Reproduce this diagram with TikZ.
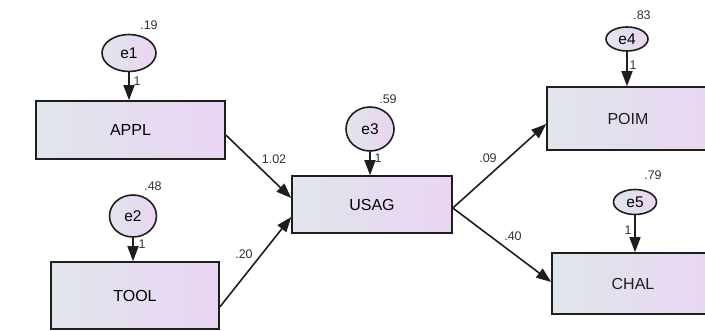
\documentclass[tikz,border=0pt]{standalone}
\usepackage{fontspec}
\setmainfont{Liberation Sans}
\usetikzlibrary{arrows.meta,calc,shapes.geometric}

\definecolor{fillL}{HTML}{E0E6EC}
\definecolor{fillR}{HTML}{EAD4F2}
\definecolor{edge}{HTML}{1E1E1E}
\definecolor{numtext}{HTML}{333333}

\tikzset{
  observed/.style={draw=edge, line width=1.6pt, left color=fillL, right color=fillR,
    minimum height=#1, inner sep=0pt, font=\fontsize{16}{18}\selectfont},
  errorvar/.style={ellipse, draw=edge, line width=1.6pt, left color=fillL, right color=fillR,
    inner sep=0pt, font=\fontsize{15.5}{17}\selectfont},
  connector/.style={draw=edge, line width=1.6pt, -{Triangle[length=15pt,width=11pt]}},
  estimate/.style={font=\fontsize{12.5}{14}\selectfont, text=numtext, inner sep=0pt},
  boxlabel/.style={font=\fontsize{16}{18}\selectfont, text=edge},
}

\begin{document}
\begin{tikzpicture}[x=1pt,y=-1pt]
\useasboundingbox (0,0) rectangle (705,331);
\clip (0,0) rectangle (705,331);
\fill[white] (0,0) rectangle (705,331);

% observed variables
\node[observed=58pt, minimum width=189pt] (appl) at (130.5,130) {APPL};
\node[observed=67pt, minimum width=168pt] (tool) at (135,295.5) {TOOL};
\node[observed=57pt, minimum width=160pt] (usag) at (372,204.5) {USAG};
\node[observed=63pt, minimum width=180pt] (poim) at (637,118.5) {};
\node[observed=61pt, minimum width=180pt] (chal) at (642,283.5) {};
\node[boxlabel] (poimlabel) at (628,118.5) {POIM};
\node[boxlabel] (challabel) at (633,283.5) {CHAL};

% error terms
\node[errorvar, minimum width=54pt, minimum height=37pt] (e1) at (129,53) {e1};
\node[errorvar, minimum width=47pt, minimum height=42pt] (e2) at (133,216) {e2};
\node[errorvar, minimum width=48pt, minimum height=44pt] (e3) at (370,129) {e3};
\node[errorvar, minimum width=42pt, minimum height=24pt] (e4) at (627,39) {e4};
\node[errorvar, minimum width=43pt, minimum height=25pt] (e5) at (635,202) {e5};

% error paths
\draw[connector] (e1.south) -- (e1.south |- appl.north);
\draw[connector] (e2.south) -- (e2.south |- tool.north);
\draw[connector] (e3.south) -- (e3.south |- usag.north);
\draw[connector] (e4.south) -- (e4.south |- poim.north);
\draw[connector] (e5.south) -- (e5.south |- chal.north);

% structural paths
\draw[connector] ($(appl.east)+(0,5)$) -- ($(usag.west)+(0,-6.5)$);
\draw[connector] ($(tool.east)+(0,11.5)$) -- ($(usag.west)+(0,12.5)$);
\draw[connector] ($(usag.east)+(0,3.5)$) -- ($(poim.west)+(0,5.5)$);
\draw[connector] ($(usag.east)+(0,3.5)$) -- ($(chal.west)+(0,-1.5)$);

% variances
\node[estimate] (v1) at (149,25) {.19};
\node[estimate] (v2) at (153,186) {.48};
\node[estimate] (v3) at (388,99) {.59};
\node[estimate] (v4) at (642,15) {.83};
\node[estimate] (v5) at (653,175) {.79};

% fixed loadings
\node[estimate] (w1) at (137,81) {1};
\node[estimate] (w2) at (142,244) {1};
\node[estimate] (w3) at (378,158) {1};
\node[estimate] (w4) at (633,65) {1};
\node[estimate] (w5) at (628,230) {1};

% regression weights
\node[estimate] (b1) at (274,159) {1.02};
\node[estimate] (b2) at (244,254) {.20};
\node[estimate] (b3) at (488,158) {.09};
\node[estimate] (b4) at (513,236) {.40};
\end{tikzpicture}
\end{document}
